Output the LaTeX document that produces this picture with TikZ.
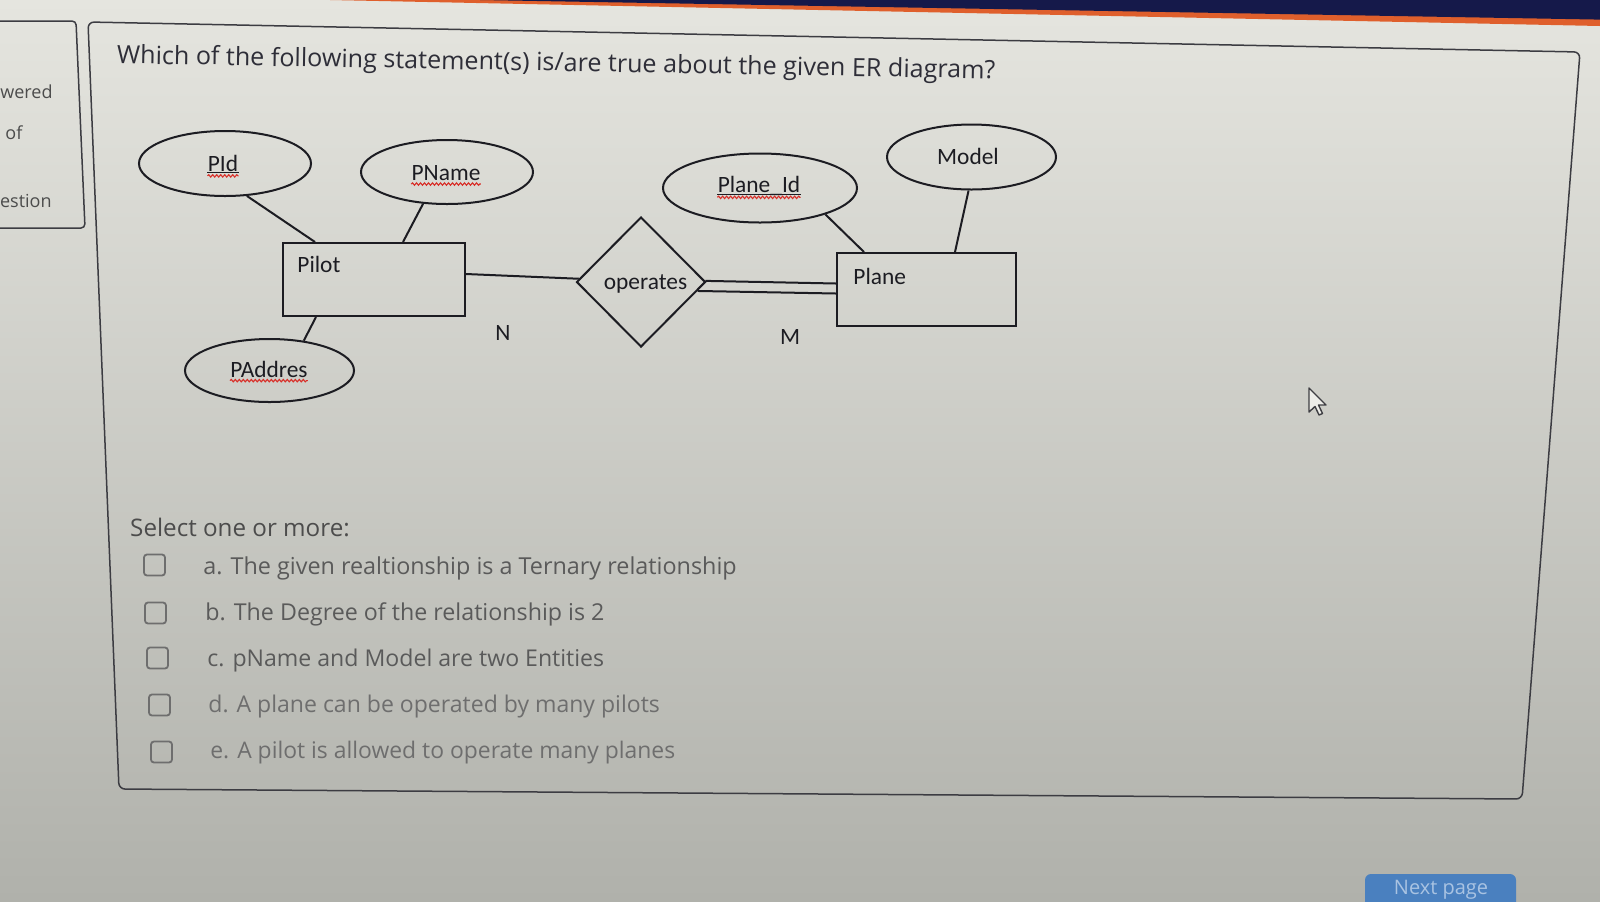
\documentclass[tikz,border=0pt]{standalone}
\usepackage{fontspec}
\setmainfont{Open Sans}
\newfontfamily\erfont{Carlito}
\usetikzlibrary{shapes.geometric,calc,decorations.pathmorphing}

\definecolor{bgtop}{HTML}{E5E5DF}
\definecolor{bgmid}{HTML}{D7D8D2}
\definecolor{bgbot}{HTML}{B0B1AB}
\definecolor{navy}{HTML}{15194A}
\definecolor{barorange}{HTML}{DF5F2C}
\definecolor{frame}{HTML}{3C3C42}
\definecolor{ink}{HTML}{1C1C22}
\definecolor{qtext}{HTML}{2E2E38}
\definecolor{opttext}{HTML}{5A5A5A}
\definecolor{boxgray}{HTML}{6E6E6E}
\definecolor{spell}{HTML}{D8302A}
\definecolor{btnblue}{HTML}{4A80BF}
\definecolor{btntext}{HTML}{A9C3E2}

\tikzset{
  panel/.style={draw=frame, line width=0.75pt},
  attr/.style={ellipse, draw=ink, line width=1pt, inner sep=0pt},
  ent/.style={rectangle, draw=ink, line width=1pt, inner sep=0pt},
  rel/.style={diamond, draw=ink, line width=1pt, inner sep=0pt},
  conn/.style={draw=ink, line width=1pt},
  erlabel/.style={font=\erfont\fontsize{11.7}{14}\selectfont, text=ink, inner sep=0pt},
  keyline/.style={draw=ink, line width=0.6pt},
  wavy/.style={draw=spell, line width=0.55pt, decorate,
    decoration={snake, amplitude=0.6pt, segment length=2pt}},
  question/.style={font=\fontsize{12.55}{15}\selectfont, text=qtext, inner sep=0pt},
  option/.style={text=opttext, inner sep=0pt, anchor=base west},
  cbox/.style={draw=boxgray, line width=0.9pt, rounded corners=1.5pt,
    minimum size=10.5pt, inner sep=0pt},
  sidetext/.style={font=\fontsize{9}{11}\selectfont, text=opttext!85!black, inner sep=0pt}
}

\begin{document}
\begin{tikzpicture}[x=0.5pt, y=-0.5pt]
\useasboundingbox (0,0) rectangle (1600,901);

% screen background
\fill[top color=bgtop, middle color=bgmid, bottom color=bgbot] (0,0) rectangle (1600,901);

% header bar
\fill[barorange] (330,0) -- (1600,0) -- (1600,26) -- cycle;
\fill[navy] (480,0) -- (1600,0) -- (1600,19.6) -- cycle;

% side panel
\draw[panel, rounded corners=2pt] (-5,21) -- (76,21) -- (85,228) -- (-5,228);
\node[sidetext, anchor=base east] (sw) at (53,98) {wered};
\node[sidetext, anchor=base west] (so) at (5,139) {of};
\node[sidetext, anchor=base east] (sq) at (52,207) {estion};

% question frame
\draw[panel, rounded corners=3pt] (88,22) -- (1580,52) -- (1522,799) -- (119,789) -- cycle;

% question
\node[question, anchor=base, rotate=-1] (q) at (556,71)
  {Which of the following statement(s) is/are true about the given ER diagram?};

% ---------- ER diagram ----------
% entities
\node[ent, minimum width=91pt, minimum height=36.5pt] (pilot) at (374,279.5) {};
\node[ent, minimum width=89.5pt, minimum height=36.5pt] (plane) at (926.5,289.5) {};
\node[erlabel, anchor=west] (pilott) at (297,264) {Pilot};
\node[erlabel, anchor=west] (planet) at (853,276) {Plane};

% relationship
\node[rel, minimum width=64.5pt, minimum height=65pt] (op) at (641,282) {};
\node[erlabel] (opt) at (645.5,284) {operates};

% attributes
\node[attr, minimum width=86pt, minimum height=32.5pt] (pid) at (225,163.5) {};
\node[attr, minimum width=86pt, minimum height=32pt] (pname) at (447,172) {};
\node[attr, minimum width=84.5pt, minimum height=31.5pt] (paddr) at (269.5,370.5) {};
\node[attr, minimum width=97pt, minimum height=34.5pt] (planeid) at (760,188) {};
\node[attr, minimum width=84.5pt, minimum height=32.5pt] (model) at (971.5,157) {};

\node[erlabel] (pidt) at (223,163) {PId};
\node[erlabel] (pnamet) at (446,173) {PName};
\node[erlabel] (paddrt) at (269,369) {PAddres};
\node[erlabel] (planeidt) at (759,186) {Plane\_Id};
\node[erlabel] (modelt) at (968,156) {Model};

% key underlines and spelling marks
\draw[keyline] ([yshift=-0.8pt]pidt.base west) -- ([yshift=-0.8pt]pidt.base east);
\draw[keyline] ([yshift=-0.8pt]planeidt.base west) -- ([yshift=-0.8pt]planeidt.base east);
\draw[wavy] ([yshift=-2.4pt]pidt.base west) -- ([yshift=-2.4pt]pidt.base east);
\draw[wavy] ([yshift=-2.4pt]planeidt.base west) -- ([yshift=-2.4pt]planeidt.base east);
\draw[wavy] ([yshift=-1.8pt]pnamet.base west) -- ([yshift=-1.8pt]pnamet.base east);
\draw[wavy] ([yshift=-1.8pt]paddrt.base west) -- ([yshift=-1.8pt]paddrt.base east);

% connectors
\draw[conn] (pid.-56) -- ($(pilot.north west)+(33,0)$);
\draw[conn] (pname.-127) -- ($(pilot.north west)+(121,0)$);
\draw[conn] (paddr.41) -- ($(pilot.south west)+(34,0)$);
\draw[conn] ($(pilot.north east)+(0,32)$) -- (op.177);
\draw[conn] (op.1) -- ($(plane.west)+(0,-6)$);
\draw[conn] (op.-9) -- ($(plane.west)+(0,4)$);
\draw[conn] (planeid.-22) -- ($(plane.north west)+(28,0)$);
\draw[conn] (model.-95) -- ($(plane.north west)+(119,0)$);

% cardinalities
\node[erlabel] (cardn) at (503,333) {N};
\node[erlabel] (cardm) at (790,337) {M};

% ---------- answers ----------
\node[option, anchor=center, text=opttext!85!black, font=\fontsize{12.1}{14}\selectfont] (sel) at (240,527) {Select one or more:};

\node[cbox] (ca) at (154.5,565) {};
\node[cbox] (cb) at (155.5,613) {};
\node[cbox] (cc) at (157.5,658) {};
\node[cbox] (cd) at (159.5,705) {};
\node[cbox] (ce) at (161.5,752) {};

\node[option, font=\fontsize{11.68}{14}\selectfont] (oa) at (203,574) {a. The given realtionship is a Ternary relationship};
\node[option, font=\fontsize{11.62}{14}\selectfont] (ob) at (205,620) {b. The Degree of the relationship is 2};
\node[option, font=\fontsize{11.55}{14}\selectfont] (oc) at (207,666) {c. pName and Model are two Entities};
\node[option, font=\fontsize{11.52}{14}\selectfont, text=opttext!88] (od) at (208,712) {d. A plane can be operated by many pilots};
\node[option, font=\fontsize{11.45}{14}\selectfont, text=opttext!88] (oe) at (210,758) {e. A pilot is allowed to operate many planes};

% pointer
\draw[draw=ink!85, line width=0.7pt, fill=bgtop!70!white, line join=round]
  (1309,388) -- ++(0,24) -- ++(6,-5.5) -- ++(4,8.5) -- ++(3.5,-1.5)
  -- ++(-4,-8.5) -- ++(7.5,0) -- cycle;

% next page button
\fill[btnblue, rounded corners=3pt] (1365,874) rectangle (1516,920);
\node[font=\fontsize{10}{12}\selectfont, text=btntext, inner sep=0pt, anchor=base] (next) at (1441,894) {Next page};
\end{tikzpicture}
\end{document}
